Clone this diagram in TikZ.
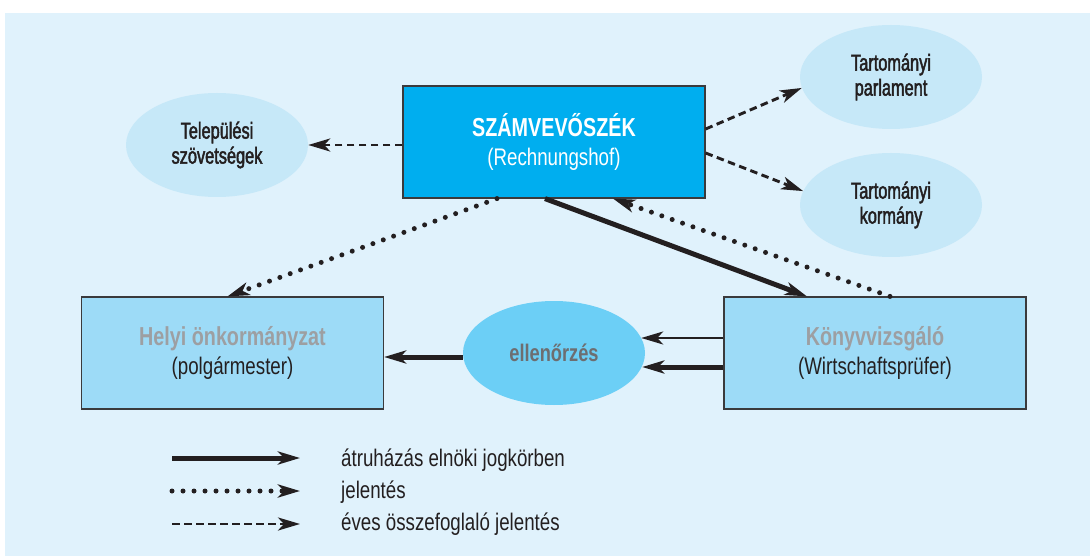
\documentclass[tikz,border=0pt]{standalone}
\usepackage{fontspec}
\setmainfont{Liberation Sans}[FakeStretch=0.78]
\newfontfamily\titlefont{Liberation Sans}[FakeStretch=0.76]
\newfontfamily\medfont{Liberation Sans}[FakeStretch=0.71,FakeBold=2]
\usetikzlibrary{arrows.meta,shapes.geometric}

\definecolor{bg}{HTML}{E0F2FC}
\definecolor{szfill}{HTML}{00AEEF}
\definecolor{boxfill}{HTML}{9DDBF7}
\definecolor{pale}{HTML}{C6E8F8}
\definecolor{midblue}{HTML}{6CCFF6}
\definecolor{ink}{HTML}{231F20}
\definecolor{greytext}{HTML}{9D9FA2}
\definecolor{darkgrey}{HTML}{6D6E71}
\definecolor{edge}{HTML}{3A3A3C}

\tikzset{
  >={Stealth[length=22pt,width=13pt,inset=6pt]},
  box/.style={draw=edge, line width=1.2pt, minimum width=302pt,
    minimum height=112pt, align=center, inner sep=0pt, text=ink,
    font=\fontsize{24}{29}\selectfont},
  blob/.style={ellipse, minimum width=182pt, minimum height=104pt,
    inner sep=0pt, align=center},
  paleblob/.style={blob, fill=pale, text=ink,
    font=\medfont\fontsize{23}{25}\selectfont},
  solidline/.style={ink, line width=5pt, ->},
  thinline/.style={ink, line width=2.5pt, ->},
  dashline/.style={ink, line width=2.9pt, dash pattern=on 7.5pt off 4.5pt, ->},
  dotline/.style={ink, line width=5pt, line cap=round,
    dash pattern=on 0pt off 11pt, ->},
  legendtext/.style={anchor=base west, inner sep=0pt, text=ink,
    font=\fontsize{24}{26}\selectfont}
}
\newcommand\boxtitle{\titlefont\bfseries\fontsize{26}{29}\selectfont}

\begin{document}
\begin{tikzpicture}[x=1pt,y=-1pt]
  % background panel
  \fill[bg] (5,13) rectangle (1090,556);
  \useasboundingbox (0,0) rectangle (1090,556);

  % main boxes
  \node[box, fill=szfill, text=white] (sz) at (554,142)
    {{\boxtitle SZÁMVEVŐSZÉK}\\(Rechnungshof)};
  \node[box, fill=boxfill] (hely) at (232.5,353)
    {{\boxtitle\color{greytext}Helyi önkormányzat}\\(polgármester)};
  \node[box, fill=boxfill] (konyv) at (875,353)
    {{\boxtitle\color{greytext}Könyvvizsgáló}\\(Wirtschaftsprüfer)};

  % ellipses
  \node[paleblob] (tel) at (217,145) {Települési\\szövetségek};
  \node[paleblob] (parl) at (891,77) {Tartományi\\parlament};
  \node[paleblob] (korm) at (891,205) {Tartományi\\kormány};
  \node[blob, fill=midblue, text=darkgrey,
    font=\titlefont\bfseries\fontsize{24}{25}\selectfont] (ell) at (554,353) {ellenőrzés};

  % annual summary reports
  \draw[dashline] (sz.west |- tel.east) -- (tel.east);
  \draw[dashline] ([yshift=13pt]sz.east) -- (parl.187.5);
  \draw[dashline] ([yshift=-11pt]sz.east) -- (korm.171.6);

  % reports
  \draw[dotline] ([xshift=-57pt]sz.south) -- ([xshift=-5pt]hely.north);
  \draw[dotline] ([xshift=15pt]konyv.north) -- ([xshift=59pt]sz.south);

  % delegation
  \draw[solidline] ([xshift=-9pt]sz.south) -- ([xshift=-68pt]konyv.north);
  \coordinate (kup) at ([yshift=15pt]konyv.west);
  \coordinate (klo) at ([yshift=-14pt]konyv.west);
  \draw[thinline] (kup) -- ([xshift=-4pt]ell.east |- kup);
  \draw[solidline] (klo) -- ([xshift=-3pt]ell.east |- klo);
  \draw[solidline] ([yshift=-4pt]ell.west) -- ([yshift=-4pt]hely.east);

  % legend
  \coordinate (k1a) at (172,458); \coordinate (k1b) at (300,458);
  \coordinate (k2a) at (172,491); \coordinate (k2b) at (300,491);
  \coordinate (k3a) at (172,524); \coordinate (k3b) at (300,524);
  \draw[solidline] (k1a) -- (k1b);
  \draw[dotline] (k2a) -- (k2b);
  \draw[dashline] (k3a) -- (k3b);
  \node[legendtext] (k1t) at (341,466) {átruházás elnöki jogkörben};
  \node[legendtext] (k2t) at (341,498) {jelentés};
  \node[legendtext] (k3t) at (341,530) {éves összefoglaló jelentés};
\end{tikzpicture}
\end{document}
